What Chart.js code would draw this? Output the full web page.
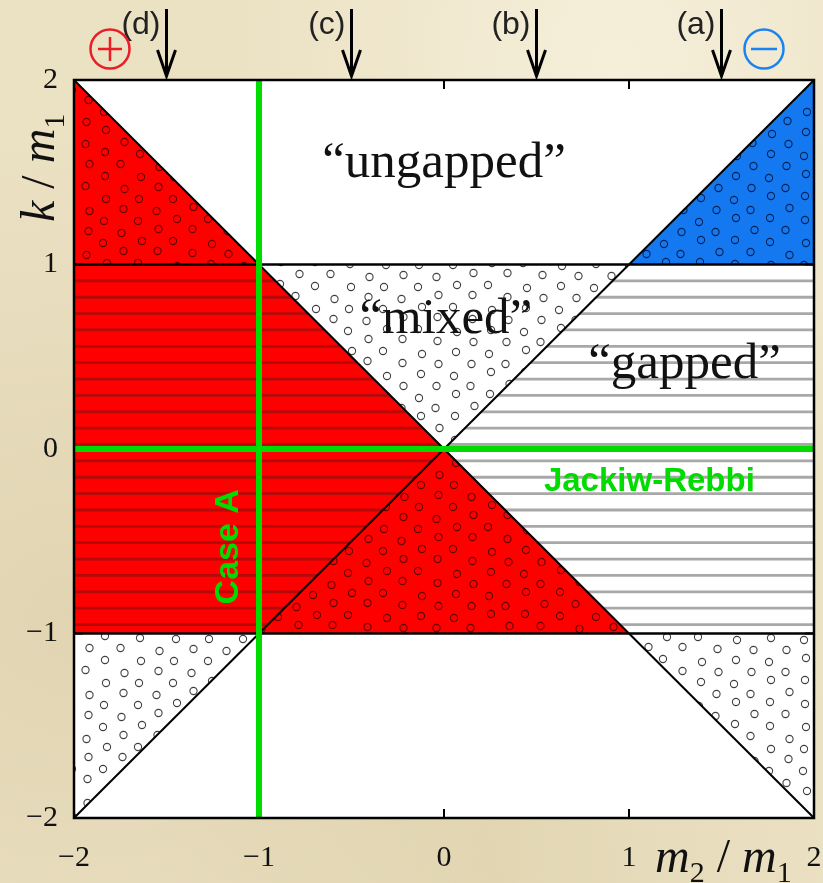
<!DOCTYPE html>
<html>
<head>
<meta charset="utf-8">
<script src="https://cdn.jsdelivr.net/npm/chart.js@4.4.0/dist/chart.umd.min.js"></script>
<style>
  html, body { margin: 0; padding: 0; }
  body {
    width: 823px; height: 883px; overflow: hidden;
    background:
      radial-gradient(ellipse at 75% 8%, rgba(250, 245, 228, 0.7), rgba(250, 245, 228, 0) 45%),
      radial-gradient(ellipse at 10% 70%, rgba(205, 188, 145, 0.35), rgba(205, 188, 145, 0) 55%),
      radial-gradient(ellipse at 60% 100%, rgba(210, 195, 150, 0.35), rgba(210, 195, 150, 0) 50%),
      #ebe1c3;
  }
  #wrap { position: relative; width: 823px; height: 883px; }
</style>
</head>
<body>
<div id="wrap"><canvas id="phase"></canvas></div>
<script>
// tick values on both axes
const m2Ticks = [-2, -1, 0, 1, 2];
const kTicks = [-2, -1, 0, 1, 2];

// regions of the (m2/m1, k/m1) plane, corners in order
const redDotsUpperLeft = [[-2, 2], [-1, 1], [-2, 1]];
const blueDotsUpperRight = [[2, 2], [2, 1], [1, 1]];
const redStripesLeft = [[-2, 1], [-1, 1], [0, 0], [-1, -1], [-2, -1]];
const mixedDots = [[-1, 1], [1, 1], [0, 0]];
const redDotsLower = [[-1, -1], [0, 0], [1, -1]];
const grayStripesRight = [[1, 1], [2, 1], [2, -1], [1, -1], [0, 0]];
const dotsLowerLeft = [[-2, -1], [-1, -1], [-2, -2]];
const dotsLowerRight = [[1, -1], [2, -1], [2, -2]];

// phase boundaries
const diagDown = [[-2, 2], [2, -2]];
const diagUp = [[-2, -2], [2, 2]];
const kOne = [[-2, 1], [2, 1]];
const kMinusOne = [[-2, -1], [2, -1]];

// special cuts
const caseALine = [[-1, -2], [-1, 2]];
const jackiwRebbiLine = [[-2, 0], [2, 0]];

// arrows above the frame
const cutPositions = [-1.5, -0.5, 0.5, 1.5];
const cutNames = ['(d)', '(c)', '(b)', '(a)'];

const SERIF = '"Liberation Serif", "DejaVu Serif", serif';
const SANS = '"Liberation Sans", Arial, sans-serif';
const GREEN = '#00dc00';

function pts(list) { return list.map(([x, y]) => ({ x, y })); }

function edge(list, color, width) {
  return { data: pts(list), showLine: true, borderColor: color, borderWidth: width,
           pointRadius: 0, pointHoverRadius: 0, fill: false, borderCapStyle: 'butt' };
}

function region(list, color, texture, ink) {
  return { data: pts(list), showLine: false, pointRadius: 0, pointHoverRadius: 0,
           regionColor: color, texture: texture, ink: ink };
}

// fixed offsets that keep the dot lattice from looking too regular
const jitter = [[0, 0], [2, -1], [-1, 2], [1, 1], [-2, -1], [1, -2], [-1, 1], [2, 2], [0, -2], [-2, 1], [1, 0]];

function drawDots(ctx, a, ink) {
  ctx.strokeStyle = ink;
  ctx.lineWidth = 1.1;
  const dx = 35, dy = 11;
  for (let r = Math.floor(a.top / dy) - 1; r * dy < a.bottom + dy; r++) {
    const shift = (r % 2) ? dx / 2 : 0;
    for (let c = Math.floor(a.left / dx) - 1; c * dx < a.right + dx; c++) {
      const j = jitter[Math.abs(r * 7 + c * 3) % jitter.length];
      const x = c * dx + shift + j[0];
      const y = r * dy + j[1];
      ctx.beginPath();
      ctx.arc(x, y, 3.6, 0, Math.PI * 2);
      ctx.stroke();
    }
  }
}

function drawStripes(ctx, chart, color) {
  const ys = chart.scales.y, a = chart.chartArea;
  ctx.strokeStyle = color;
  ctx.lineWidth = 2.8;
  for (let k = 1; k <= 23; k++) {
    const y = ys.getPixelForValue(1 - k * 0.0887);
    ctx.beginPath();
    ctx.moveTo(a.left, y);
    ctx.lineTo(a.right, y);
    ctx.stroke();
  }
}

const regionPainter = {
  id: 'regionPainter',
  beforeDatasetsDraw(chart) {
    const { ctx, chartArea: a } = chart;
    ctx.save();
    ctx.fillStyle = '#ffffff';
    ctx.fillRect(a.left, a.top, a.width, a.height);
    chart.data.datasets.forEach((ds, i) => {
      if (!ds.regionColor) return;
      const els = chart.getDatasetMeta(i).data;
      ctx.save();
      ctx.beginPath();
      els.forEach((p, j) => (j ? ctx.lineTo(p.x, p.y) : ctx.moveTo(p.x, p.y)));
      ctx.closePath();
      ctx.fillStyle = ds.regionColor;
      ctx.fill();
      ctx.clip();
      if (ds.texture === 'stripes') drawStripes(ctx, chart, ds.ink);
      else drawDots(ctx, a, ds.ink);
      ctx.restore();
    });
    // inward tick marks
    ctx.strokeStyle = '#000';
    ctx.lineWidth = 2;
    const xs = chart.scales.x, ys = chart.scales.y;
    m2Ticks.forEach(v => {
      const x = xs.getPixelForValue(v);
      ctx.beginPath();
      ctx.moveTo(x, a.top); ctx.lineTo(x, a.top + 9);
      ctx.moveTo(x, a.bottom); ctx.lineTo(x, a.bottom - 9);
      ctx.stroke();
    });
    kTicks.forEach(v => {
      const y = ys.getPixelForValue(v);
      ctx.beginPath();
      ctx.moveTo(a.left, y); ctx.lineTo(a.left + 9, y);
      ctx.moveTo(a.right, y); ctx.lineTo(a.right - 9, y);
      ctx.stroke();
    });
    ctx.restore();
  },
  afterDatasetsDraw(chart) {
    const { ctx, chartArea: a } = chart;
    const xs = chart.scales.x, ys = chart.scales.y;
    ctx.save();
    ctx.strokeStyle = '#000';
    ctx.lineWidth = 2.5;
    ctx.strokeRect(a.left, a.top, a.width, a.height);

    ctx.fillStyle = '#111';
    ctx.textAlign = 'center';
    ctx.textBaseline = 'middle';
    ctx.font = '51px ' + SERIF;
    ctx.fillText('\u201cungapped\u201d', xs.getPixelForValue(0), ys.getPixelForValue(1.545));
    ctx.fillText('\u201cmixed\u201d', xs.getPixelForValue(0.01), ys.getPixelForValue(0.70));
    ctx.fillText('\u201cgapped\u201d', xs.getPixelForValue(1.30), ys.getPixelForValue(0.455));

    ctx.fillStyle = GREEN;
    ctx.font = 'bold 33px ' + SANS;
    ctx.fillText('Jackiw-Rebbi', xs.getPixelForValue(1.11), ys.getPixelForValue(-0.18));
    ctx.save();
    ctx.translate(xs.getPixelForValue(-1.165), ys.getPixelForValue(-0.53));
    ctx.rotate(-Math.PI / 2);
    ctx.font = 'bold 34px ' + SANS;
    ctx.fillText('Case A', 0, 0);
    ctx.restore();
    ctx.restore();
  },
  afterDraw(chart) {
    const { ctx } = chart;
    const xs = chart.scales.x;
    ctx.save();

    // arrows marking the cuts (a)-(d)
    ctx.strokeStyle = '#000';
    ctx.fillStyle = '#222';
    ctx.lineWidth = 3;
    ctx.font = '32px ' + SANS;
    ctx.textAlign = 'right';
    ctx.textBaseline = 'alphabetic';
    cutPositions.forEach((v, i) => {
      const x = xs.getPixelForValue(v);
      ctx.beginPath();
      ctx.moveTo(x, 9); ctx.lineTo(x, 75);
      ctx.moveTo(x - 9, 50); ctx.lineTo(x, 76); ctx.lineTo(x + 9, 50);
      ctx.stroke();
      ctx.fillText(cutNames[i], x - 6, 34);
    });

    // circled signs
    ctx.lineWidth = 2.5;
    ctx.strokeStyle = '#ec1c24';
    ctx.beginPath(); ctx.arc(110, 49, 19.5, 0, Math.PI * 2); ctx.stroke();
    ctx.beginPath();
    ctx.moveTo(98, 49); ctx.lineTo(122, 49);
    ctx.moveTo(110, 37); ctx.lineTo(110, 61);
    ctx.stroke();
    ctx.strokeStyle = '#1b82f2';
    ctx.beginPath(); ctx.arc(764, 49, 19.5, 0, Math.PI * 2); ctx.stroke();
    ctx.beginPath(); ctx.moveTo(751, 49); ctx.lineTo(777, 49); ctx.stroke();

    // axis titles
    ctx.fillStyle = '#111';
    ctx.textAlign = 'left';
    const pieces = (list, x0, y0) => {
      let x = x0;
      list.forEach(([t, font, dy]) => {
        ctx.font = font;
        ctx.fillText(t, x, y0 + dy);
        x += ctx.measureText(t).width;
      });
    };
    const it = 'italic 48px ' + SERIF, up = '48px ' + SERIF, sub = '30px ' + SERIF;
    pieces([['m', it, 0], ['2', sub, 10], [' / ', up, 0], ['m', it, 0], ['1', sub, 10]], 655, 872);
    ctx.save();
    ctx.translate(54, 222);
    ctx.rotate(-Math.PI / 2);
    pieces([['k', it, 0], [' / ', up, 0], ['m', it, 0], ['1', sub, 10]], 0, 0);
    ctx.restore();

    ctx.restore();
  }
};

const tickFont = { family: SERIF, size: 30 };
const minus = v => String(v).replace('-', '\u2212');

new Chart(document.getElementById('phase'), {
  type: 'scatter',
  data: {
    datasets: [
      edge(caseALine, GREEN, 6),
      edge(jackiwRebbiLine, GREEN, 6),
      edge(kOne, '#000', 2.5),
      edge(kMinusOne, '#000', 2.5),
      edge(diagDown, '#000', 2),
      edge(diagUp, '#000', 2),
      region(redDotsUpperLeft, '#ff0000', 'dots', 'rgba(60,0,0,0.8)'),
      region(blueDotsUpperRight, '#1478f0', 'dots', 'rgba(0,20,60,0.85)'),
      region(redStripesLeft, '#ff0000', 'stripes', '#b40a0a'),
      region(mixedDots, '#ffffff', 'dots', 'rgba(0,0,0,0.75)'),
      region(redDotsLower, '#ff0000', 'dots', 'rgba(60,0,0,0.8)'),
      region(grayStripesRight, '#ffffff', 'stripes', '#a8a8a8'),
      region(dotsLowerLeft, '#ffffff', 'dots', 'rgba(0,0,0,0.75)'),
      region(dotsLowerRight, '#ffffff', 'dots', 'rgba(0,0,0,0.75)')
    ]
  },
  options: {
    responsive: true,
    maintainAspectRatio: false,
    animation: false,
    events: [],
    layout: { padding: { top: 80, right: 9, left: 0, bottom: 0 } },
    plugins: { legend: { display: false }, tooltip: { enabled: false } },
    scales: {
      x: {
        type: 'linear', min: -2, max: 2,
        afterFit: s => { s.height = 65; s.paddingLeft = 0; s.paddingRight = 0; },
        afterBuildTicks: s => { s.ticks = m2Ticks.map(v => ({ value: v })); },
        grid: { display: false }, border: { display: false },
        ticks: { font: tickFont, color: '#111', padding: 14, callback: minus, maxRotation: 0 }
      },
      y: {
        type: 'linear', min: -2, max: 2,
        afterFit: s => { s.width = 74; s.paddingTop = 0; s.paddingBottom = 0; },
        afterBuildTicks: s => { s.ticks = kTicks.map(v => ({ value: v })); },
        grid: { display: false }, border: { display: false },
        ticks: { font: tickFont, color: '#111', padding: 8, callback: minus }
      }
    }
  },
  plugins: [regionPainter]
});
</script>
</body>
</html>
